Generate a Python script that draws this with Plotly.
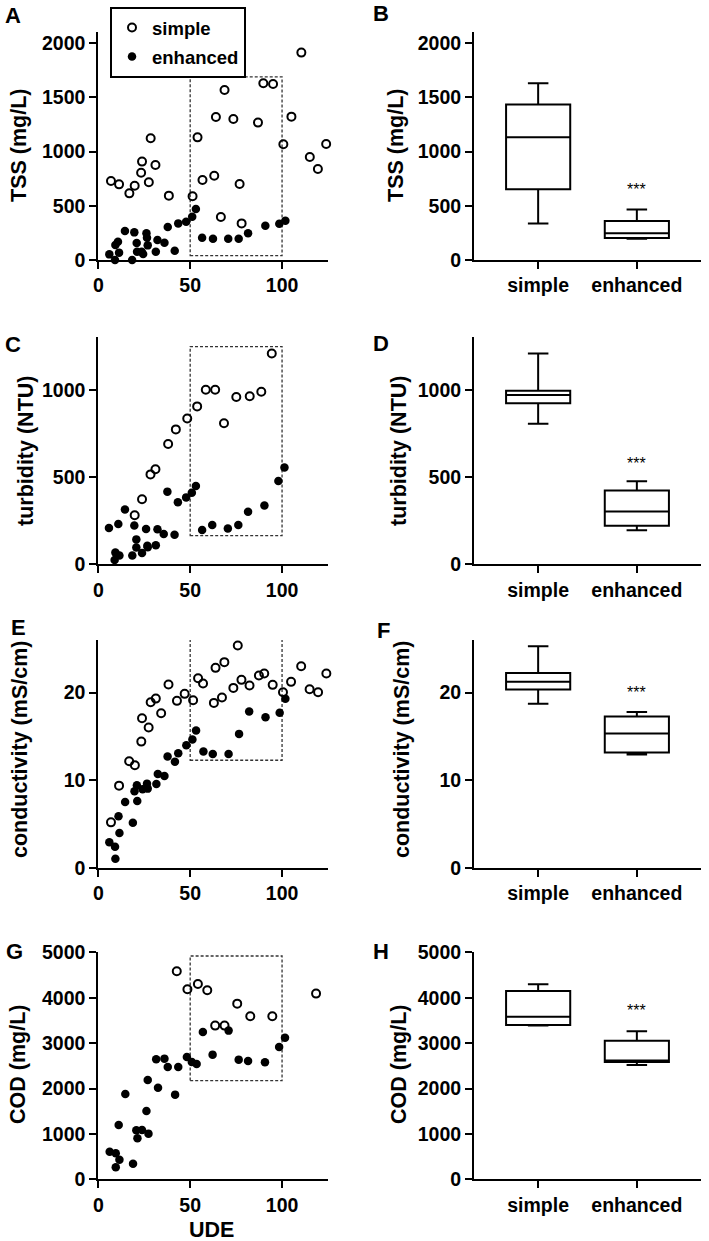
import plotly.graph_objects as go

# ---------------- data ----------------
# Panel A: TSS vs UDE
a_simple_x = [6.9, 11.3, 16.9, 19.8, 23.3, 23.8, 27.5, 28.5, 31.1, 38.4, 51.3, 54.0, 56.7, 63.1, 64.0, 66.7,
              68.7, 73.5, 76.9, 78.0, 86.9, 89.8, 95.1, 100.7, 105.1, 110.5, 115.1, 119.5, 124.0]
a_simple_y = [729, 698, 615, 686, 806, 908, 717, 1123, 877, 594, 588, 1132, 738, 778, 1320, 397,
              1569, 1302, 702, 338, 1268, 1631, 1625, 1068, 1323, 1914, 951, 840, 1071]
a_enh_x = [6.0, 9.1, 9.3, 10.7, 11.3, 14.5, 18.4, 19.6, 20.9, 21.1, 23.6, 24.4, 26.2, 26.5, 26.9, 31.3,
           32.2, 36.0, 37.8, 41.6, 43.5, 47.8, 51.1, 53.1, 56.5, 62.4, 70.7, 76.4, 81.5, 90.9, 98.5, 101.8]
a_enh_y = [52, 0, 138, 169, 68, 268, 0, 255, 157, 77, 77, 55, 246, 206, 135, 77,
           185, 160, 305, 86, 338, 354, 400, 471, 206, 197, 197, 197, 246, 317, 335, 363]

# Panel C: turbidity vs UDE
c_simple_x = [19.8, 23.8, 28.4, 31.1, 38.0, 42.2, 48.4, 53.8, 58.5, 63.6, 68.4, 75.1, 82.4, 88.7, 94.4]
c_simple_y = [281, 373, 516, 545, 690, 774, 837, 906, 1002, 1002, 809, 960, 964, 990, 1210]
c_enh_x = [5.8, 8.9, 9.3, 10.9, 11.5, 14.5, 18.5, 19.6, 20.7, 20.7, 23.8, 26.0, 26.7, 26.9, 31.3, 32.2,
           35.6, 37.6, 41.5, 43.3, 47.8, 50.9, 53.1, 56.5, 62.0, 70.5, 76.2, 81.5, 90.4, 98.0, 101.3]
c_enh_y = [208, 25, 67, 231, 50, 314, 50, 222, 143, 96, 65, 203, 107, 98, 109, 201,
           174, 417, 170, 356, 384, 411, 449, 197, 226, 205, 226, 302, 337, 478, 556]

# Panel E: conductivity vs UDE
e_simple_x = [6.9, 11.3, 16.8, 19.9, 23.4, 23.8, 27.4, 28.5, 31.3, 34.2, 38.2, 42.8, 47.0, 51.6, 54.3, 57.0,
              62.9, 63.8, 67.3, 68.6, 73.5, 75.9, 77.9, 82.3, 87.4, 90.3, 94.9, 100.5, 104.9, 110.4, 115.0,
              119.6, 124.1]
e_simple_y = [5.18, 9.37, 12.15, 11.70, 14.40, 17.07, 16.0, 18.9, 19.31, 17.64, 20.91, 19.05, 19.85, 19.12,
              21.64, 21.03, 18.82, 22.82, 19.43, 23.47, 20.53, 25.37, 21.45, 20.8, 21.94, 22.17, 20.88,
              20.04, 21.22, 23.01, 20.38, 20.04, 22.17]
e_enh_x = [6.0, 9.1, 9.3, 11.0, 11.5, 14.6, 18.8, 19.7, 21.0, 21.2, 24.1, 26.5, 26.9, 31.6, 32.4, 36.0,
           37.7, 41.7, 43.5, 47.9, 51.2, 53.2, 57.2, 62.3, 70.9, 76.6, 82.1, 91.0, 98.7, 101.8]
e_enh_y = [2.90, 2.40, 1.03, 5.87, 3.96, 7.50, 5.14, 8.72, 9.41, 7.62, 8.95, 9.60, 9.03, 9.56, 10.70, 10.48,
           12.69, 12.11, 13.07, 13.98, 14.63, 15.66, 13.26, 12.99, 12.99, 15.28, 17.83, 17.18, 17.68, 19.28]

# Panel G: COD vs UDE
g_simple_x = [42.7, 48.5, 54.2, 59.3, 63.6, 68.7, 75.6, 82.7, 94.7, 118.5]
g_simple_y = [4581, 4185, 4302, 4163, 3385, 3385, 3869, 3590, 3590, 4090]
g_enh_x = [6.2, 9.5, 9.5, 11.5, 11.1, 14.7, 18.9, 20.7, 21.3, 23.8, 26.2, 26.9, 27.3, 31.5, 32.5, 36.0,
           37.8, 41.8, 43.5, 48.2, 50.9, 53.5, 56.9, 62.2, 70.9, 76.4, 81.5, 90.7, 98.4, 101.6]
g_enh_y = [609, 573, 264, 433, 1197, 1880, 345, 1079, 903, 1087, 1505, 2188, 1006, 2643, 2019, 2658,
           2474, 1865, 2474, 2695, 2584, 2540, 3245, 2746, 3275, 2636, 2606, 2577, 2915, 3120]

# Box plot summaries (panels B, D, F, H): [simple, enhanced]
groups = ["simple", "enhanced"]
b_low, b_q1, b_med, b_q3, b_high = [338, 197], [652, 203], [1132, 246], [1434, 360], [1631, 465]
d_low, d_q1, d_med, d_q3, d_high = [806, 196], [924, 221], [971, 303], [996, 423], [1210, 476]
f_low, f_q1, f_med, f_q3, f_high = [18.71, 12.93], [20.34, 13.16], [21.22, 15.32], [22.24, 17.26], [25.29, 17.79]
h_low, h_q1, h_med, h_q3, h_high = [3385, 2518], [3399, 2584], [3583, 2614], [4148, 3054], [4295, 3260]

# Selection windows (dashed rectangles): x0, x1, y0, y1
a_window = [50, 100, 40, 1690]
c_window = [50, 100, 164, 1249]
e_window = [50, 100, 12.27, 26.4]
g_window = [50, 100, 2173, 4919]

# Axis settings
a_yrange, a_ytick = [0, 2107], 500
c_yrange, c_ytick = [0, 1306], 500
e_yrange, e_ytick = [0, 26.0], 10
g_yrange, g_ytick = [0, 5000], 1000

y_titles = ["TSS (mg/L)", "turbidity (NTU)", "conductivity (mS/cm)", "COD (mg/L)"]
star_y = [652, 577, 19.96, 3715]

# ---------------- layout helpers ----------------
W, H = 709, 1241
FONT = "Liberation Sans, Arial, sans-serif"


def fx(p):
    return p / W


def fy(p):
    return 1 - p / H


row_px = [(31.7, 260.0), (336.7, 564.3), (640.0, 867.7), (952.3, 1179.3)]
scatter_dom = [fx(98.3), fx(328)]
box_dom = [fx(474), fx(701)]

tickfont = dict(family=FONT, size=19.5, color="black", weight="bold")
axis_common = dict(showline=True, linecolor="black", linewidth=2, ticks="outside", ticklen=7,
                   tickwidth=2, tickcolor="black", showgrid=False, zeroline=False, tickfont=tickfont,
                   fixedrange=True, automargin=False)

fig = go.Figure()

scatter_rows = [
    (a_simple_x, a_simple_y, a_enh_x, a_enh_y, a_yrange, a_ytick, a_window),
    (c_simple_x, c_simple_y, c_enh_x, c_enh_y, c_yrange, c_ytick, c_window),
    (e_simple_x, e_simple_y, e_enh_x, e_enh_y, e_yrange, e_ytick, e_window),
    (g_simple_x, g_simple_y, g_enh_x, g_enh_y, g_yrange, g_ytick, g_window),
]
box_rows = [
    (b_low, b_q1, b_med, b_q3, b_high),
    (d_low, d_q1, d_med, d_q3, d_high),
    (f_low, f_q1, f_med, f_q3, f_high),
    (h_low, h_q1, h_med, h_q3, h_high),
]

layout = dict(width=W, height=H, margin=dict(l=0, r=0, t=0, b=0, pad=0, autoexpand=False),
              plot_bgcolor="white", paper_bgcolor="white", showlegend=True)
shapes = []
annotations = []

for i, (sx, sy, ex, ey, yr, ydt, win) in enumerate(scatter_rows):
    top, bot = row_px[i]
    ydom = [fy(bot), fy(top)]
    ks = 2 * i + 1  # scatter axis index
    kb = 2 * i + 2  # box axis index
    xs = "x" if ks == 1 else f"x{ks}"
    ys = "y" if ks == 1 else f"y{ks}"
    xb, yb = f"x{kb}", f"y{kb}"

    fig.add_trace(go.Scatter(x=sx, y=sy, mode="markers", name="simple", xaxis=xs, yaxis=ys,
                             legendgroup="simple", showlegend=(i == 0),
                             marker=dict(symbol="circle-open", size=8, color="black",
                                         line=dict(width=2, color="black")), cliponaxis=False))
    fig.add_trace(go.Scatter(x=ex, y=ey, mode="markers", name="enhanced", xaxis=xs, yaxis=ys,
                             legendgroup="enhanced", showlegend=(i == 0),
                             marker=dict(symbol="circle", size=8.5, color="black"), cliponaxis=False))

    layout[f"xaxis{'' if ks == 1 else ks}"] = dict(axis_common, domain=scatter_dom, range=[0, 125],
                                                   tickmode="array", tickvals=[0, 50, 100],
                                                   anchor=ys)
    layout[f"yaxis{'' if ks == 1 else ks}"] = dict(axis_common, domain=ydom, range=yr, dtick=ydt,
                                                   tick0=0, anchor=xs)
    shapes.append(dict(type="rect", xref=xs, yref=ys, x0=win[0], x1=win[1], y0=win[2], y1=win[3],
                       line=dict(color="#333333", width=1.3, dash="3px,2px"), layer="below"))

    low, q1, med, q3, high = box_rows[i]
    for j, g in enumerate(groups):
        fig.add_trace(go.Box(x=[g], q1=[q1[j]], median=[med[j]], q3=[q3[j]],
                             lowerfence=[low[j]], upperfence=[high[j]], xaxis=xb, yaxis=yb,
                             showlegend=False, boxpoints=False, width=0.65, whiskerwidth=0.32,
                             fillcolor="white", line=dict(color="black", width=2)))
    layout[f"xaxis{kb}"] = dict(axis_common, domain=box_dom, range=[-0.65, 1.65], type="category",
                                categoryorder="array", categoryarray=groups, anchor=yb)
    layout[f"yaxis{kb}"] = dict(axis_common, domain=ydom, range=yr, dtick=ydt, tick0=0, anchor=xb)

    annotations.append(dict(text="***", xref=xb, yref=yb, x="enhanced", y=star_y[i],
                            showarrow=False, font=dict(family=FONT, size=16, color="black")))

title_pos = [  # (scatter x px, box x px, y px)
    (19, 396, 146), (26, 399, 451), (20, 402, 750), (18, 399, 1065)]
for i, t in enumerate(y_titles):
    sxp, bxp, yp = title_pos[i]
    for xp in (sxp, bxp):
        annotations.append(dict(text=t, xref="paper", yref="paper", x=fx(xp), y=fy(yp),
                                xanchor="center", yanchor="middle", textangle=-90, showarrow=False,
                                font=dict(family=FONT, size=21.5, color="black", weight="bold")))

letters = [("A", 13, 15), ("B", 381, 13), ("C", 13, 344), ("D", 381, 343),
           ("E", 18, 627), ("F", 383, 630), ("G", 14, 951), ("H", 381, 951)]
for L, xp, yp in letters:
    annotations.append(dict(text=L, xref="paper", yref="paper", x=fx(xp), y=fy(yp),
                            xanchor="center", yanchor="middle", showarrow=False,
                            font=dict(family=FONT, size=22, color="black", weight="bold")))

annotations.append(dict(text="UDE", xref="paper", yref="paper", x=fx(212), y=fy(1230),
                        xanchor="center", yanchor="middle", showarrow=False,
                        font=dict(family=FONT, size=21.5, color="black", weight="bold")))

layout["shapes"] = shapes
layout["annotations"] = annotations
layout["legend"] = dict(x=fx(110), y=fy(7), xanchor="left", yanchor="top", bgcolor="white",
                        bordercolor="black", borderwidth=2, traceorder="grouped", tracegroupgap=2,
                        font=dict(family=FONT, size=18.5, color="black", weight="bold"),
                        itemwidth=30)

fig.update_layout(**layout)
# remove the browser's default 8px body margin so the figure sits at the page origin
fig.write_html("out.html", config={"displayModeBar": False},
               post_script="document.body.style.margin='0px';")
